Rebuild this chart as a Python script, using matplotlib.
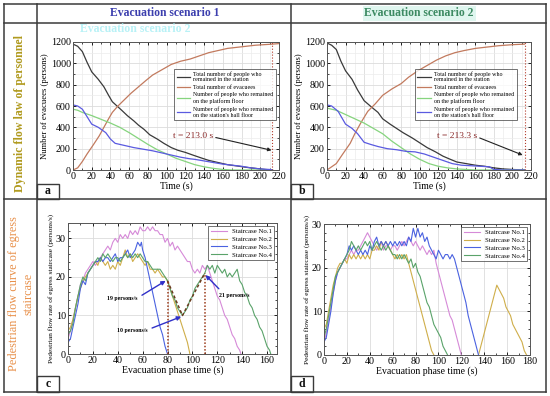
import numpy as np
import matplotlib
matplotlib.use("Agg")
import matplotlib.pyplot as plt
import matplotlib.ticker as mticker
from matplotlib.lines import Line2D
from matplotlib.patches import Rectangle

plt.rcParams["font.family"] = ["Liberation Serif", "DejaVu Serif"]
plt.rcParams["mathtext.fontset"] = "stix"

W, H = 550, 396

# ---------------------------------------------------------------------------
# Data
# ---------------------------------------------------------------------------
# panel a (scenario 1)
a_t_black = [0, 5, 10, 15, 20, 27, 33, 38, 42, 47, 52, 58, 65, 70, 76, 82, 90, 97, 105, 112,
             120, 128, 138, 145, 155, 165, 175, 185, 195, 205, 213]
a_black = [1180, 1160, 1110, 1010, 920, 850, 780, 700, 640, 600, 560, 510, 460, 420, 380, 330,
           290, 250, 210, 185, 165, 140, 110, 90, 70, 50, 38, 25, 15, 5, 0]
a_t_brown = [0, 5, 10, 15, 22, 28, 33, 38, 42, 48, 55, 62, 70, 78, 85, 95, 105, 115, 125, 135,
             145, 155, 165, 180, 195, 213, 220]
a_brown = [0, 20, 80, 150, 240, 320, 400, 480, 540, 600, 660, 720, 780, 840, 890, 940, 990, 1020,
           1040, 1070, 1100, 1120, 1140, 1155, 1170, 1180, 1185]
a_t_green = [0, 5, 10, 20, 30, 40, 50, 60, 70, 80, 90, 100, 110, 120, 130, 140, 150, 160, 170, 213]
a_green = [570, 560, 540, 510, 475, 440, 400, 350, 295, 240, 190, 150, 110, 80, 50, 30, 15, 5, 0, 0]
a_t_blue = [0, 5, 10, 15, 20, 27, 35, 40, 45, 55, 65, 75, 85, 95, 105, 115, 125, 130, 140, 150,
            160, 170, 180, 190, 200, 210, 213]
a_blue = [610, 600, 570, 500, 430, 400, 350, 290, 250, 230, 210, 195, 180, 160, 140, 120, 105, 100,
          85, 70, 55, 45, 35, 20, 10, 5, 0]

# panel b (scenario 2)
b_t_black = [0, 5, 10, 15, 20, 27, 33, 40, 48, 55, 60, 68, 75, 82, 92, 100, 108, 117, 125, 133,
             140, 150, 160, 170, 180, 190, 200, 213]
b_black = [1190, 1170, 1130, 1020, 930, 850, 750, 650, 590, 540, 480, 430, 390, 350, 300, 255,
           210, 170, 130, 100, 75, 60, 45, 35, 20, 10, 5, 0]
b_t_brown = [0, 5, 10, 17, 25, 30, 37, 44, 52, 60, 70, 80, 88, 98, 108, 118, 128, 138, 148, 160,
             170, 185, 200, 213]
b_brown = [0, 30, 60, 150, 250, 340, 450, 550, 620, 700, 760, 810, 870, 930, 980, 1030, 1070, 1100,
           1120, 1140, 1150, 1165, 1175, 1180]
b_t_green = [0, 10, 20, 30, 40, 50, 60, 70, 80, 90, 100, 110, 120, 130, 140, 150, 160, 213]
b_green = [580, 560, 520, 480, 440, 390, 340, 270, 210, 150, 100, 60, 35, 20, 10, 5, 0, 0]
b_t_blue = [0, 5, 12, 20, 27, 33, 40, 47, 55, 65, 75, 85, 95, 105, 115, 125, 135, 145, 155, 165,
            175, 180, 190, 213]
b_blue = [610, 600, 550, 430, 390, 340, 260, 240, 220, 200, 190, 175, 170, 150, 120, 90, 60, 45,
          40, 35, 30, 5, 0, 0]

legend_ab = ["Total number of people who\nremained in the station",
             "Total number of evacuees",
             "Number of people who remained\non the platform floor",
             "Number of people who remained\non the station's hall floor"]

# panel c (staircase flows, scenario 1)
c_t1 = list(range(0, 140, 2)) + [139]
c_s1 = [4, 6, 9, 12, 15, 18, 19, 21, 22, 23, 24, 23, 24, 25, 26, 27, 28, 27, 29, 30, 29, 31, 30,
        31, 30, 32, 31, 32, 31, 33, 32, 32, 33, 32, 33, 32, 32, 31, 31, 29, 30, 28, 29, 27, 28, 27,
        26, 25, 24, 24, 22, 21, 22, 21, 23, 22, 23, 21, 19, 17, 15, 14, 12, 10, 9, 7, 5, 4, 2, 1, 0]
c_t2 = list(range(0, 100, 2))
c_s2 = [6, 7, 9, 12, 15, 17, 19, 20, 21, 22, 23, 24, 23, 25, 24, 23, 24, 22, 23, 22, 24, 23, 25,
        27, 25, 26, 24, 25, 26, 25, 24, 23, 24, 22, 22, 21, 22, 21, 20, 20, 19, 17, 15, 13, 11, 9,
        7, 5, 3, 0]
c_t3 = list(range(0, 60, 2)) + [59] + list(range(60, 82, 2))
c_s3 = [3, 4, 7, 10, 13, 17, 19, 18, 21, 22, 23, 24, 24, 25, 24, 25, 25, 24, 25, 26, 24, 25, 25,
        26, 27, 25, 26, 27, 29, 28, 29, 27, 25, 22, 19, 16, 13, 10, 7, 5, 2, 0]
c_t4 = list(range(0, 164, 2)) + [163]
c_s4 = [5, 6, 8, 12, 15, 18, 20, 19, 21, 22, 23, 24, 25, 24, 26, 25, 26, 25, 24, 25, 25, 24, 25,
        26, 25, 26, 25, 26, 25, 26, 25, 24, 24, 23, 22, 22, 22, 22, 21, 20, 19, 17, 15, 14, 12, 11,
        10, 11, 12, 14, 15, 17, 18, 19, 20, 21, 23, 22, 23, 21, 23, 22, 21, 22, 20, 21, 20, 21, 22,
        19, 18, 16, 15, 13, 12, 10, 9, 7, 6, 4, 2, 1, 0]
c_dip_t = [80, 92, 110]
c_dip_v = [19, 10, 21]

# panel d (staircase flows, scenario 2)
d_t1 = list(range(0, 122, 2))
d_s1 = [3, 5, 8, 11, 14, 17, 19, 20, 21, 22, 22, 23, 24, 23, 24, 24, 25, 26, 27, 28, 27, 26, 25,
        24, 25, 26, 24, 25, 25, 24, 25, 25, 24, 25, 26, 25, 26, 27, 26, 25, 26, 25, 24, 25, 24, 23,
        24, 23, 24, 21, 19, 17, 15, 13, 11, 9, 8, 6, 4, 2, 0]
d_t2 = list(range(0, 98, 2)) + [np.nan] + list(range(135, 179, 2))
d_s2 = [6, 7, 10, 13, 16, 18, 20, 21, 21, 22, 21, 23, 22, 23, 22, 23, 22, 23, 22, 23, 22, 24, 24,
        25, 24, 26, 25, 26, 25, 24, 23, 22, 23, 22, 23, 22, 23, 21, 19, 17, 15, 13, 11, 9, 7, 5,
        3, 1, 0, np.nan,
        0, 2, 4, 6, 8, 10, 12, 14, 16, 15, 14, 13, 11, 10, 9, 7, 6, 5, 4, 3, 1, 0]
d_t3 = list(range(0, 136, 2)) + [135]
d_s3 = [3, 4, 7, 10, 14, 17, 19, 20, 21, 22, 23, 25, 24, 25, 24, 23, 24, 23, 24, 23, 25, 24, 26,
        27, 25, 26, 25, 26, 25, 26, 25, 26, 25, 26, 25, 26, 25, 27, 26, 29, 27, 29, 27, 28, 26, 27,
        25, 24, 23, 22, 24, 23, 22, 23, 23, 22, 23, 22, 20, 18, 16, 14, 12, 9, 7, 5, 3, 1, 0]
d_t4 = list(range(0, 110, 2))
d_s4 = [4, 6, 9, 12, 15, 18, 19, 20, 21, 22, 23, 24, 26, 25, 24, 25, 24, 25, 26, 25, 26, 24, 25,
        26, 25, 24, 25, 24, 25, 24, 23, 23, 22, 23, 22, 23, 22, 21, 22, 20, 21, 19, 18, 16, 14, 12,
        11, 9, 7, 6, 5, 4, 2, 1, 0]

stair_names = ["Staircase No.1", "Staircase No.2", "Staircase No.3", "Staircase No.4"]
stair_colors = ["#d68ad8", "#cfae4a", "#4a62e0", "#5aa36a"]
evac_colors = ["#3a3a3a", "#c27a5e", "#86d47e", "#5a5ae0"]

# ---------------------------------------------------------------------------
fig = plt.figure(figsize=(W / 100, H / 100), dpi=100)


def px_axes(l, t, r, b):
    return fig.add_axes([l / W, 1 - b / H, (r - l) / W, (b - t) / H])


def fx(x):
    return x / W


def fy(y):
    return 1 - y / H


def style_axes(ax, xmajor, xminor, ymajor, yminor, minor_grid):
    ax.xaxis.set_major_locator(mticker.MultipleLocator(xmajor))
    ax.xaxis.set_minor_locator(mticker.MultipleLocator(xminor))
    ax.yaxis.set_major_locator(mticker.MultipleLocator(ymajor))
    ax.yaxis.set_minor_locator(mticker.MultipleLocator(yminor))
    ax.tick_params(which="both", direction="in", top=True, right=True, labelsize=7.2, pad=1.5)
    ax.tick_params(which="major", length=2.5, width=0.6)
    ax.tick_params(which="minor", length=1.5, width=0.5)
    ax.grid(True, which="major", color="#dcdcdc", linewidth=0.6)
    if minor_grid:
        ax.grid(True, which="minor", color="#ececec", linewidth=0.5)
    ax.set_axisbelow(True)
    for s in ax.spines.values():
        s.set_linewidth(0.7)
        s.set_color("#555555")


# --- panels a & b ---
evac_panels = [
    (px_axes(73, 42, 279, 170), a_t_black, a_black, a_t_brown, a_brown, a_t_green, a_green,
     a_t_blue, a_blue, "t = 213.0 s", (128, 318), (212, 185), (1.0, 0.815)),
    (px_axes(327, 42, 531, 170), b_t_black, b_black, b_t_brown, b_brown, b_t_green, b_green,
     b_t_blue, b_blue, "t = 213.3 s", (140, 318), (211, 140), (0.945, 0.815)),
]
for (ax, tk, k, tr, r, tg, g, tb, bl, tlabel, txy, axy, legpos) in evac_panels:
    ax.plot(tk, k, color=evac_colors[0], lw=0.9, label=legend_ab[0])
    ax.plot(tr, r, color=evac_colors[1], lw=0.9, label=legend_ab[1])
    ax.plot(tg, g, color=evac_colors[2], lw=0.9, label=legend_ab[2])
    ax.plot(tb, bl, color=evac_colors[3], lw=0.9, label=legend_ab[3])
    ax.axvline(213, color="#b23a2a", lw=0.8, ls=":")
    ax.annotate(tlabel, xy=axy, xytext=txy, fontsize=6.8, color="#8a2a2a",
                ha="center", va="center",
                arrowprops=dict(arrowstyle="-|>", color="#222222", lw=0.8, relpos=(1.0, 0.4),
                                mutation_scale=5, shrinkA=0, shrinkB=0))
    ax.set_xlim(0, 220)
    ax.set_ylim(0, 1200)
    style_axes(ax, 20, 10, 200, 100, True)
    ax.set_xlabel("Time (s)", fontsize=7, labelpad=0.5)
    ax.set_ylabel("Number of evacuees (persons)", fontsize=6.2, labelpad=1)
    leg = ax.legend(loc="upper right", bbox_to_anchor=legpos, fontsize=4.3, frameon=True,
                    fancybox=False, edgecolor="#333333", handlelength=2.2, borderpad=0.4,
                    labelspacing=0.35, handletextpad=0.6)
    leg.get_frame().set_linewidth(0.6)

# --- panels c & d ---
ax_c = px_axes(68, 223, 277, 354)
for t, v, col, name in zip([c_t1, c_t2, c_t3, c_t4], [c_s1, c_s2, c_s3, c_s4],
                           stair_colors, stair_names):
    ax_c.plot(t, v, color=col, lw=0.8, label=name)
ax_c.plot(c_dip_t, c_dip_v, color="#6b3b1e", lw=1.1, ls=(0, (2, 1.5)))
ax_c.plot([c_dip_t[0], c_dip_t[0]], [0, c_dip_v[0]], color="#9a3a1a", lw=1.1, ls=(0, (1, 1.2)))
ax_c.plot([c_dip_t[2], c_dip_t[2]], [0, c_dip_v[2]], color="#9a3a1a", lw=1.1, ls=(0, (1, 1.2)))
arrow_kw = dict(arrowstyle="-|>", color="#3030c8", lw=1.0, mutation_scale=6, shrinkA=1, shrinkB=0)
ax_c.annotate("19 persons/s", xy=(78.5, 19), xytext=(44, 14.5), fontsize=4.2, fontweight="bold",
              ha="center", va="center", arrowprops=dict(relpos=(1.0, 0.6), **arrow_kw))
ax_c.annotate("10 persons/s", xy=(91, 9.7), xytext=(52, 6.2), fontsize=4.2, fontweight="bold",
              ha="center", va="center", arrowprops=dict(relpos=(1.0, 0.6), **arrow_kw))
ax_c.annotate("21 persons/s", xy=(110.5, 20.5), xytext=(134, 15.3), fontsize=4.2, fontweight="bold",
              ha="center", va="center", arrowprops=dict(relpos=(0.1, 1.0), **arrow_kw))
ax_c.set_xlim(0, 168)
ax_c.set_ylim(0, 34)

ax_d = px_axes(324, 224, 530, 355)
for t, v, col, name in zip([d_t1, d_t2, d_t3, d_t4], [d_s1, d_s2, d_s3, d_s4],
                           stair_colors, stair_names):
    ax_d.plot(t, v, color=col, lw=0.8, label=name)
ax_d.set_xlim(0, 180)
ax_d.set_ylim(0, 30)

for ax in (ax_c, ax_d):
    style_axes(ax, 20, 10, 10, 2, False)
    ax.set_xlabel("Evacuation phase time (s)", fontsize=7, labelpad=0.5)
    ax.set_ylabel("Pedestrian flow rate of egress staircase (persons/s)", fontsize=5.3, labelpad=1)
    leg = ax.legend(loc="upper right", fontsize=4.9, frameon=True, fancybox=False,
                    edgecolor="#333333", handlelength=2.4, borderpad=0.4, labelspacing=0.3,
                    handletextpad=0.7, borderaxespad=0.4)
    leg.get_frame().set_linewidth(0.6)

# ---------------------------------------------------------------------------
# Table frame and headers
# ---------------------------------------------------------------------------
frame_kw = dict(color="#3a3a3a", lw=1.1, transform=fig.transFigure)
for x0, y0, x1, y1 in [(4, 4, 546, 4), (4, 392, 546, 392), (4, 4, 4, 392), (546, 4, 546, 392),
                       (37, 4, 37, 392), (291, 4, 291, 392), (4, 23, 546, 23), (4, 199, 546, 199)]:
    fig.add_artist(Line2D([fx(x0), fx(x1)], [fy(y0), fy(y1)], **frame_kw))

# faint ghost text seen under the header
fig.text(fx(135), fy(29.5), "Evacuation scenario 2", color="#a6eef4", fontsize=8.5,
         ha="center", va="center", fontweight="bold", alpha=0.8)

fig.text(fx(165), fy(13.5), "Evacuation scenario 1", color="#3c3fae", fontsize=8.4,
         fontweight="bold", ha="center", va="center")
fig.text(fx(419), fy(13.5), "Evacuation scenario 2", color="#3c8a62", fontsize=8.4,
         fontweight="bold", ha="center", va="center",
         bbox=dict(boxstyle="square,pad=0.15", fc="#dff6ef", ec="none"))

fig.text(fx(20), fy(113), "Dynamic flow law of personnel", color="#b09a1e", fontsize=8.6,
         fontweight="bold", rotation=90, ha="center", va="center")
fig.text(fx(21), fy(294), "Pedestrian flow curve of egress\nstaircase", color="#e8904a",
         fontsize=8.8, rotation=90, ha="center", va="center", multialignment="center",
         linespacing=1.3)

for letter, (x0, y0, x1, y1) in zip("abcd", [(37, 184, 59, 199), (291, 184, 313, 199),
                                             (37, 376, 59, 392), (291, 376, 313, 392)]):
    fig.add_artist(Rectangle((fx(x0), fy(y1)), fx(x1 - x0), (y1 - y0) / H, fill=False,
                             ec="#3a3a3a", lw=1.0, transform=fig.transFigure))
    fig.text(fx((x0 + x1) / 2), fy((y0 + y1) / 2), letter, fontsize=8.5, fontweight="bold",
             ha="center", va="center", color="#111111")

fig.savefig("out.png", dpi=100)
